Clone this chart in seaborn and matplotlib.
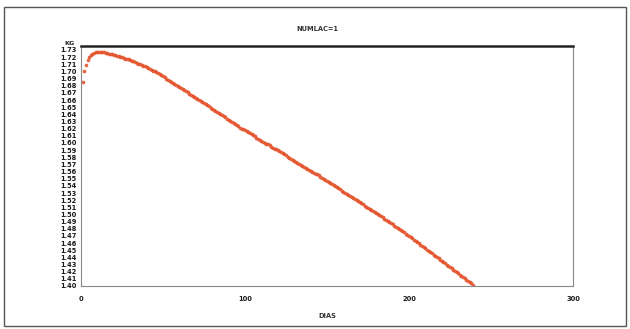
import matplotlib
matplotlib.use("Agg")
import matplotlib.pyplot as plt
from matplotlib.patches import Rectangle
from matplotlib.ticker import MultipleLocator, FormatStrFormatter
import pandas as pd
import seaborn as sns

# Daily milk-fat yield (kg) by days in milk, first lactation
kg = [
    1.685, 1.700, 1.709, 1.716, 1.720, 1.723, 1.725, 1.726, 1.7265, 1.727,    # 1-10
    1.727, 1.727, 1.727, 1.7265, 1.726, 1.7255, 1.725, 1.7245, 1.724, 1.723,  # 11-20
    1.7225, 1.722, 1.721, 1.7205, 1.720, 1.719, 1.718, 1.7175, 1.717, 1.716,  # 21-30
    1.715, 1.714, 1.713, 1.712, 1.711, 1.710, 1.709, 1.708, 1.707, 1.706,     # 31-40
    1.705, 1.7035, 1.702, 1.701, 1.700, 1.699, 1.6975, 1.696, 1.6945, 1.693,  # 41-50
    1.6915, 1.690, 1.6885, 1.687, 1.6855, 1.684, 1.6825, 1.681, 1.6795, 1.678,  # 51-60
    1.6765, 1.675, 1.6735, 1.672, 1.6705, 1.669, 1.6675, 1.666, 1.6645, 1.663,  # 61-70
    1.6615, 1.660, 1.6585, 1.657, 1.6555, 1.654, 1.6525, 1.651, 1.6495, 1.648,  # 71-80
    1.6465, 1.645, 1.6435, 1.642, 1.6405, 1.639, 1.6375, 1.636, 1.634, 1.632,   # 81-90
    1.6305, 1.629, 1.6275, 1.626, 1.6245, 1.623, 1.6215, 1.620, 1.619, 1.618,   # 91-100
    1.6165, 1.615, 1.6135, 1.612, 1.6105, 1.609, 1.6075, 1.606, 1.6045, 1.603,  # 101-110
    1.6015, 1.600, 1.599, 1.598, 1.5965, 1.595, 1.5935, 1.592, 1.591, 1.590,    # 111-120
    1.5885, 1.587, 1.5855, 1.584, 1.5825, 1.581, 1.5795, 1.578, 1.5765, 1.575,  # 121-130
    1.5735, 1.572, 1.5705, 1.569, 1.5675, 1.566, 1.565, 1.564, 1.5625, 1.561,   # 131-140
    1.5595, 1.558, 1.557, 1.556, 1.5545, 1.553, 1.5515, 1.550, 1.5485, 1.547,   # 141-150
    1.5455, 1.544, 1.5425, 1.541, 1.5395, 1.538, 1.5365, 1.535, 1.5335, 1.532,  # 151-160
    1.5305, 1.529, 1.5275, 1.526, 1.5245, 1.523, 1.5215, 1.520, 1.5185, 1.517,  # 161-170
    1.5155, 1.514, 1.5125, 1.511, 1.5095, 1.508, 1.5065, 1.505, 1.5035, 1.502,  # 171-180
    1.5005, 1.499, 1.4975, 1.496, 1.494, 1.492, 1.4905, 1.489, 1.4875, 1.486,   # 181-190
    1.4845, 1.483, 1.4815, 1.480, 1.4785, 1.477, 1.475, 1.473, 1.4715, 1.470,   # 191-200
    1.4685, 1.467, 1.465, 1.463, 1.4615, 1.460, 1.458, 1.456, 1.4545, 1.453,    # 201-210
    1.451, 1.449, 1.4475, 1.446, 1.444, 1.442, 1.4405, 1.439, 1.437, 1.435,     # 211-220
    1.4335, 1.432, 1.430, 1.428, 1.4265, 1.425, 1.423, 1.421, 1.4195, 1.418,    # 221-230
    1.416, 1.414, 1.4125, 1.411, 1.409, 1.407, 1.4055, 1.404, 1.402,            # 231-239
]
dias = list(range(1, len(kg) + 1))

x_ticks = [0, 100, 200, 300]
title_text = "NUMLAC=1"
x_label = "DIAS"
y_label = "KG"

sns.set_style("white")
plt.rcParams["font.family"] = ["DejaVu Sans"]

df = pd.DataFrame({"DIAS": dias, "KG": kg})

fig = plt.figure(figsize=(6.3, 3.29), dpi=100)
ax = fig.add_axes([81 / 630, 1 - 286 / 329, (573 - 81) / 630, (286 - 46) / 329])

sns.scatterplot(data=df, x="DIAS", y="KG", ax=ax, color="#e4542e",
                s=7, linewidth=0, alpha=0.9, legend=False)

ax.set_xlim(0, 300)
ax.set_ylim(1.40, 1.7355)
ax.set_xticks(x_ticks)
ax.xaxis.set_minor_locator(MultipleLocator(10))
ax.yaxis.set_major_locator(MultipleLocator(0.01))
ax.yaxis.set_major_formatter(FormatStrFormatter("%.2f"))

ax.tick_params(axis="both", which="both", direction="out", colors="#555555",
               labelcolor="#1a1a1a", labelsize=4.8)
ax.tick_params(axis="y", which="major", length=2, width=0.6, pad=1.5)
ax.tick_params(axis="x", which="major", length=3, width=0.6, pad=4)
ax.tick_params(axis="x", which="minor", length=1.5, width=0.5)
for lab in ax.get_xticklabels() + ax.get_yticklabels():
    lab.set_fontweight("bold")

for side in ["left", "bottom", "right"]:
    ax.spines[side].set_visible(True)
    ax.spines[side].set_color("#888888")
    ax.spines[side].set_linewidth(0.8)
ax.spines["top"].set_visible(True)
ax.spines["top"].set_color("#222222")
ax.spines["top"].set_linewidth(1.8)

ax.set_xlabel(x_label, fontsize=4.8, fontweight="bold", color="#333333", labelpad=8)
ax.set_ylabel("")
ax.text(-0.012, 1.0, y_label, transform=ax.transAxes, ha="right", va="bottom",
        fontsize=4.6, fontweight="bold", color="#222222")
fig.text(317 / 630, 1 - 29 / 329, title_text, ha="center", va="center",
         fontsize=4.8, fontweight="bold", color="#333333")

# outer frame around the whole figure
fig.add_artist(Rectangle((4 / 630, 3 / 329), 622 / 630, 319 / 329,
                         transform=fig.transFigure, fill=False,
                         edgecolor="#555555", linewidth=1.0))

fig.savefig("out.png", dpi=100)
